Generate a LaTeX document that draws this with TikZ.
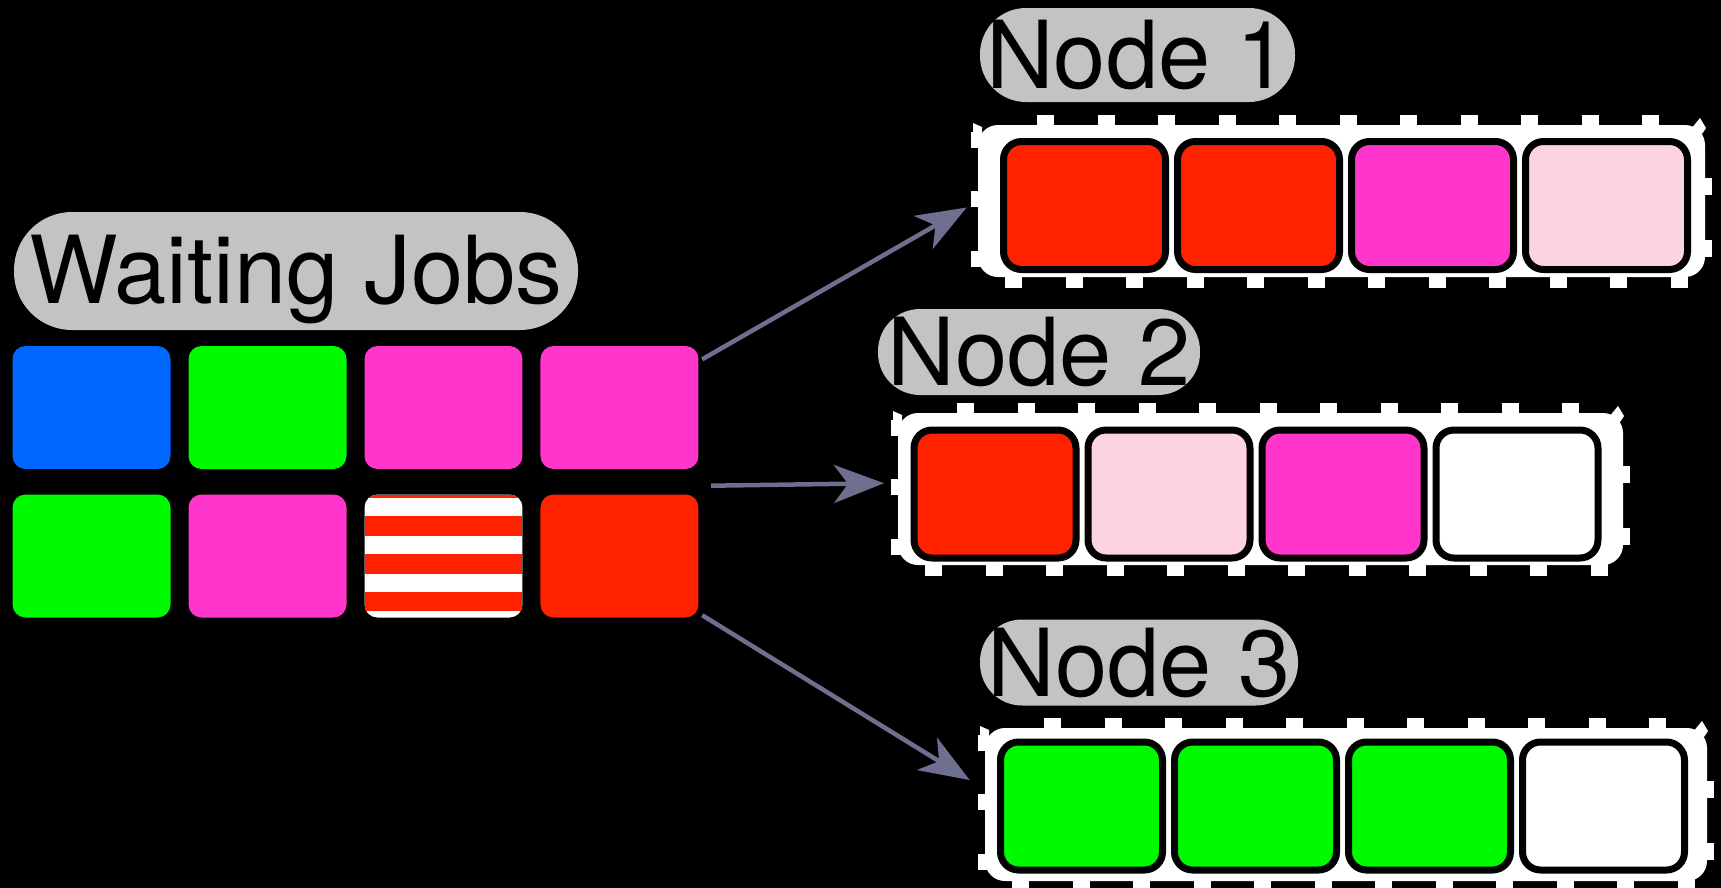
\documentclass[tikz,border=0pt]{standalone}
\usepackage{fontspec}
\setmainfont{TeX Gyre Heros}
\usetikzlibrary{arrows.meta}
\definecolor{jblue}{RGB}{0,102,255}
\definecolor{jgreen}{RGB}{0,250,0}
\definecolor{jpink}{RGB}{255,53,204}
\definecolor{jrose}{RGB}{252,211,227}
\definecolor{jred}{RGB}{255,34,0}
\definecolor{pillgray}{RGB}{195,195,195}
\definecolor{flowcol}{RGB}{110,110,142}
\tikzset{node distance=17.4mm,
  job/.style={rectangle, rounded corners=1.3mm, minimum width=15.8mm, minimum height=12.3mm, inner sep=0pt},
  slot/.style={rectangle, draw=black, line width=0.7mm, rounded corners=1.8mm, minimum width=16.2mm, minimum height=12.8mm, inner sep=0pt},
  membox/.style={rectangle, fill=white, rounded corners=2mm, inner sep=0pt, outer sep=0pt},
  pill/.style={rectangle, fill=pillgray, inner sep=0pt, font=\fontsize{26.7}{30}\selectfont},
  flow/.style={draw=flowcol, line width=0.45mm, -{Stealth[length=5mm,width=3.8mm,inset=1.4mm]}}}

\begin{document}
\begin{tikzpicture}[x=0.1mm, y=-0.1mm]
  \fill[black] (0,0) rectangle (1721,888);
  \useasboundingbox (0,0) rectangle (1721,888);

  % waiting jobs
  \node[pill, minimum width=56.4mm, minimum height=11.8mm, rounded corners=5.8mm, text depth=0.07em] (wait) at (296,271) {Waiting Jobs};
  \node[job, fill=jblue] (j11) at (91.5,407.5) {};
  \node[job, fill=jgreen, node distance=17.6mm, right of=j11] (j12) {};
  \node[job, fill=jpink, node distance=17.6mm, right of=j12] (j13) {};
  \node[job, fill=jpink, node distance=17.6mm, right of=j13] (j14) {};
  \node[job, fill=jgreen, node distance=14.85mm, below of=j11] (j21) {};
  \node[job, fill=jpink, node distance=17.6mm, right of=j21] (j22) {};
  \node[job, fill=white, node distance=17.6mm, right of=j22, path picture={
      \foreach \a/\b in {0/3,21/41,59/79,97/116}
        \fill[jred, sharp corners] ([shift={(0,\a)}]path picture bounding box.north west) rectangle ([shift={(0,\b)}]path picture bounding box.north east);
    }] (j23) {};
  \node[job, fill=jred, node distance=17.6mm, right of=j23] (j24) {};

  % nodes
  \node[pill, minimum width=31.5mm, minimum height=9.4mm, rounded corners=4.6mm] (lab1) at (1137.5,55) {Node 1};
  \node[pill, minimum width=32.2mm, minimum height=8.6mm, rounded corners=4.2mm] (lab2) at (1039,352) {Node 2};
  \node[pill, minimum width=31.8mm, minimum height=8.6mm, rounded corners=4.2mm] (lab3) at (1139,662.5) {Node 3};

  \node[membox, minimum width=72.7mm, minimum height=15.2mm] (n1box) at (1341.5,201) {};
  \node[membox, minimum width=72.5mm, minimum height=15.2mm] (n2box) at (1260.5,489) {};
  \node[membox, minimum width=72.2mm, minimum height=15.3mm] (n3box) at (1346,804.5) {};
  \foreach \bx in {n1box,n2box,n3box} {
    \foreach \k in {0,...,10}
      \fill[white] ([shift={(59+60.5*\k,3)}]\bx.north west) rectangle ++(17,-13);
    \foreach \k in {0,...,11}
      \fill[white] ([shift={(27+60.5*\k,-3)}]\bx.south west) rectangle ++(17,14);
    \foreach \t in {7,66,126}
      \fill[white] ([shift={(3,\t)}]\bx.north west) rectangle ++(-10,16);
    \foreach \t in {53,115}
      \fill[white] ([shift={(-3,\t)}]\bx.north east) rectangle ++(10,17);
    \fill[white] ([shift={(-14,4)}]\bx.north east) -- ++(9,-11) -- ++(6,10) -- ++(-4,6) -- cycle;
    \fill[white] ([shift={(4,2)}]\bx.north west) -- ++(-9,-4) -- ++(0,12) -- ++(9,0) -- cycle;
  }

  \node[slot, fill=jred] (a1) at (1084.5,205.5) {};
  \node[slot, fill=jred, right of=a1] (a2) {};
  \node[slot, fill=jpink, right of=a2] (a3) {};
  \node[slot, fill=jrose, right of=a3] (a4) {};

  \node[slot, fill=jred] (b1) at (995,494) {};
  \node[slot, fill=jrose, right of=b1] (b2) {};
  \node[slot, fill=jpink, right of=b2] (b3) {};
  \node[slot, fill=white, right of=b3] (b4) {};

  \node[slot, fill=jgreen] (c1) at (1081.5,806) {};
  \node[slot, fill=jgreen, right of=c1] (c2) {};
  \node[slot, fill=jgreen, right of=c2] (c3) {};
  \node[slot, fill=white, right of=c3] (c4) {};

  % arrows
  \coordinate (s1) at ([shift={(3,14)}]j14.north east);
  \coordinate (s2) at ([shift={(12,16)}]j14.south east);
  \coordinate (s3) at ([shift={(3,-3)}]j24.south east);
  \draw[flow, shorten >=1.3mm] (s1) -- (n1box.west);
  \draw[flow, shorten >=1.4mm] (s2) -- ([yshift=0.6mm]n2box.west);
  \draw[flow, shorten >=1.8mm] (s3) -- ([yshift=1.5mm]n3box.west);
\end{tikzpicture}
\end{document}
